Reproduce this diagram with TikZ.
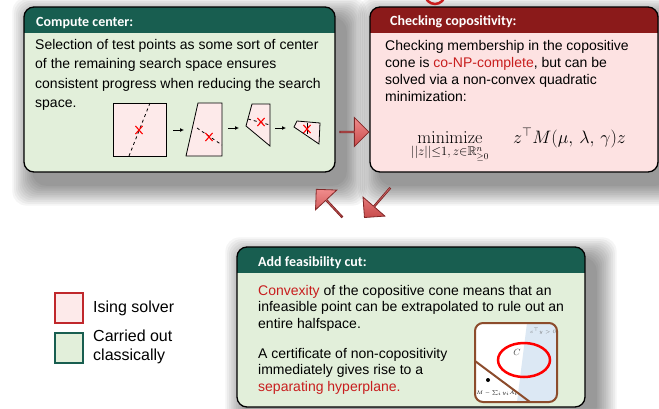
\RequirePackage{fix-cm}
\documentclass[tikz,border=0pt]{standalone}
\usepackage{amsmath, amssymb}
\usepackage[no-math]{fontspec}
\setmainfont{Liberation Sans}
\newfontfamily\headfont{Carlito}
\usetikzlibrary{arrows.meta, positioning, shapes.arrows, shapes.misc, backgrounds}

\definecolor{hdgreen}{RGB}{24,94,80}
\definecolor{bggreen}{RGB}{226,239,218}
\definecolor{hdred}{RGB}{139,26,26}
\definecolor{bgred}{RGB}{253,226,226}
\definecolor{pinkfill}{RGB}{253,234,234}
\definecolor{txtred}{RGB}{200,30,30}
\definecolor{legred}{RGB}{192,40,44}
\definecolor{brownline}{RGB}{140,76,44}
\definecolor{paleblue}{RGB}{220,232,244}
\definecolor{arrowlight}{RGB}{240,140,140}
\definecolor{arrowred}{RGB}{200,75,75}
\definecolor{arrowdark}{RGB}{130,40,40}

\tikzset{
  panel/.style={rounded corners=10pt, inner sep=0pt, outer sep=0pt},
  frame/.style={draw=black, line width=1.3pt, rounded corners=10pt},
  hdtext/.style={font=\headfont\bfseries\fontsize{14}{16}\selectfont, text=white, anchor=base west, inner sep=0pt},
  bodytext/.style={font=\fontsize{14}{#1}\selectfont, anchor=base west, align=left, inner sep=0pt},
  mathtext/.style={font=\fontsize{18}{22}\selectfont, inner sep=0pt},
  shapeline/.style={draw=black, fill=pinkfill, line width=0.8pt},
  cutline/.style={dashed, line width=0.8pt},
  xmark/.style={cross out, draw=red, line width=1.1pt, minimum width=6pt, minimum height=7pt, inner sep=0pt},
  flow/.style={-{Latex[length=4pt, width=4pt]}, line width=0.9pt},
  blockarrow/.style={single arrow, single arrow head extend=7pt, minimum width=29pt, inner sep=0pt,
    draw=arrowdark, line width=0.8pt, top color=arrowlight, bottom color=arrowred},
  legbox/.style={minimum width=28pt, minimum height=30pt, line width=1.8pt, inner sep=0pt},
  legtext/.style={font=\fontsize{16}{19}\selectfont, anchor=base west, align=left, inner sep=0pt}
}

\begin{document}
\begin{tikzpicture}[x=1pt, y=-1pt]
\useasboundingbox (0,0) rectangle (659,408);

% panels
\node[panel, fill=bggreen, minimum width=311pt, minimum height=165pt] (cc) at (179.5,89.5) {};
\node[panel, fill=bgred, minimum width=288pt, minimum height=165pt] (cp) at (514,89.5) {};
\node[panel, fill=bggreen, minimum width=348pt, minimum height=160pt] (fc) at (411,327) {};

% headers and frames
\foreach \bx/\hc in {cc/hdgreen, cp/hdred, fc/hdgreen}{
  \begin{scope}
    \clip[rounded corners=10pt] (\bx.north west) rectangle (\bx.south east);
    \fill[\hc] (\bx.north west) rectangle ([yshift=-26pt]\bx.north east);
  \end{scope}
  \draw[frame] (\bx.north west) rectangle (\bx.south east);
}

% shadows
\begin{scope}[on background layer]
  \fill[white] (0,0) rectangle (659,408);
  \foreach \bx in {cc,cp,fc}{
    \foreach \k in {1,...,12}
      \fill[black, opacity=0.04, rounded corners=14pt]
        ([xshift=10pt-\k*1.8pt, yshift=-12pt+\k*1.8pt]\bx.north west) rectangle
        ([xshift=10pt+\k*1.8pt, yshift=-12pt-\k*1.8pt]\bx.south east);
  }
\end{scope}

% red arc at the top
\draw[txtred, line width=2.5pt] (435,-6) circle (10pt);

% compute center
\node[hdtext] (cchd) at (36,26) {Compute center:};
\node[bodytext=19.6] (cctext) at (35,107.8) {Selection of test points as some sort of center\\of the remaining search space ensures\\consistent progress when reducing the search\\space.};

\draw[shapeline] (113,103) rectangle (166,156);
\draw[cutline] (150,103) -- (129,156);
\node[xmark] (m1) at (139,130) {};
\coordinate (f1a) at (173,130);
\coordinate (f1b) at (184,130);
\draw[flow] (f1a) -- (f1b);

\draw[shapeline] (198,103) -- (222,103) -- (222,156) -- (186,156) -- cycle;
\draw[cutline] (197,128) -- (222,145);
\node[xmark] (m2) at (209,137) {};
\coordinate (f2a) at (228,128);
\coordinate (f2b) at (239,128);
\draw[flow] (f2a) -- (f2b);

\draw[shapeline] (252,104) -- (270,104) -- (270,146) -- (246,126) -- cycle;
\draw[cutline] (248,119) -- (270,125);
\node[xmark] (m3) at (261,122) {};
\coordinate (f3a) at (275,128);
\coordinate (f3b) at (286,128);
\draw[flow] (f3a) -- (f3b);

\draw[shapeline] (297,121) -- (320,123) -- (319,144) -- (294,127) -- cycle;
\draw[line width=0.8pt] (307,123) -- (307,134);
\node[xmark] (m4) at (307,129) {};

% checking copositivity
\node[hdtext] (cphd) at (390,25) {Checking copositivity:};
\node[bodytext=17.3] (cptext) at (385,101.9) {Checking membership in the copositive\\cone is \textcolor{txtred}{co-NP-complete}, but can be\\solved via a non-convex quadratic\\minimization:};
\node[mathtext, anchor=base] (minop) at (450,143) {$\displaystyle\operatorname*{minimize}_{||z||\leq 1,\, z\in\mathbb{R}^n_{\geq 0}}$};
\node[mathtext, anchor=base west] (obj) at (513,143) {$z^{\top} M(\mu,\,\lambda,\,\gamma)z$};

% block arrows
\node[blockarrow, minimum height=29pt] (ar1) at (354,132) {};
\node[blockarrow, minimum height=39pt, rotate=229] (ar2) at (377.5,202.5) {};
\node[blockarrow, minimum height=38pt, rotate=133] (ar3) at (329.5,203.5) {};

% feasibility cut
\node[hdtext] (fchd) at (258,266) {Add feasibility cut:};
\node[bodytext=16.7] (fctext) at (258,328.4) {\textcolor{txtred}{Convexity} of the copositive cone means that an\\infeasible point can be extrapolated to rule out an\\entire halfspace.};
\node[bodytext=16.7] (fccert) at (258,391.4) {A certificate of non-copositivity\\immediately gives rise to a\\\textcolor{txtred}{separating hyperplane.}};

% inset
\coordinate (inNW) at (475,323);
\coordinate (inSE) at (557,402);
\begin{scope}
  \clip[rounded corners=8pt] (inNW) rectangle (inSE);
  \fill[white] (inNW) rectangle (inSE);
  \fill[paleblue] (527,323) -- (557,323) -- (557,402) -- (517,402) -- cycle;
  \draw[brownline, line width=2pt] (475,361) -- (530,402);
\end{scope}
\draw[brownline, line width=2pt, rounded corners=8pt] (inNW) rectangle (inSE);
\draw[red, line width=2.5pt] (524,360) ellipse [x radius=26pt, y radius=17pt];
\node[font=\fontsize{9}{10}\selectfont, text=black!70] (clab) at (517,352) {$C$};
\fill (488,380) circle (2pt);
\node[font=\fontsize{5}{6}\selectfont] (mlab) at (497,393) {$M-\sum_i y_iA_i$};
\node[font=\fontsize{5}{6}\selectfont, text=black!55] (hlab) at (543,331) {$c^{\top}y>0$};

% legend
\node[legbox, draw=legred, fill=pinkfill] (lr) at (69,308) {};
\node[legtext] (lrt) at (93,312) {Ising solver};
\node[legbox, draw=hdgreen, fill=bggreen] (lg) at (69,348) {};
\node[legtext] (lgt) at (93,360) {Carried out\\classically};
\end{tikzpicture}
\end{document}
